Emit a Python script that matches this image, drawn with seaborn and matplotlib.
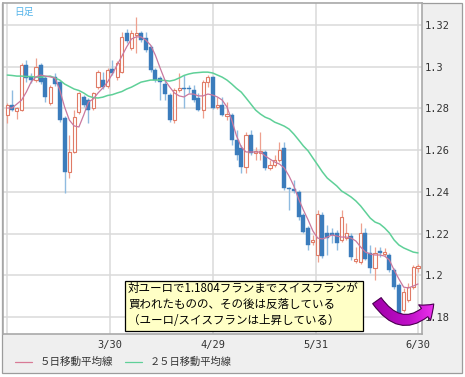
import numpy as np
import pandas as pd
import matplotlib
matplotlib.use("Agg")
import matplotlib.pyplot as plt
import seaborn as sns
from matplotlib.patches import Rectangle, FancyArrowPatch
from matplotlib.lines import Line2D
from matplotlib.colors import LinearSegmentedColormap

# ---------------- data (EUR/CHF daily candles) ----------------
opens = [1.2768, 1.2816, 1.2787, 1.2792, 1.3008, 1.2950, 1.2936, 1.3008, 1.2946, 1.2826,
         1.2950, 1.2926, 1.2754, 1.2495, 1.2591, 1.2782, 1.2854, 1.2840, 1.2802, 1.2902,
         1.2936, 1.2907, 1.2989, 1.2950, 1.2974, 1.3162, 1.3090, 1.3152, 1.3162, 1.3138,
         1.3094, 1.2984, 1.2946, 1.2917, 1.2864, 1.2744, 1.2888, 1.2898, 1.2898, 1.2888,
         1.2850, 1.2792, 1.2926, 1.2950, 1.2806, 1.2816, 1.2763, 1.2768, 1.2649, 1.2610,
         1.2519, 1.2673, 1.2586, 1.2586, 1.2591, 1.2515, 1.2529, 1.2553, 1.2610, 1.2418,
         1.2414, 1.2399, 1.2289, 1.2227, 1.2159, 1.2097, 1.2289, 1.2203, 1.2203, 1.2203,
         1.2169, 1.2179, 1.2188, 1.2068, 1.2063, 1.2203, 1.2107, 1.2035, 1.2116, 1.2102,
         1.2097, 1.2025, 1.1953, 1.1833, 1.1881, 1.1943, 1.2035]
highs = [1.2826, 1.2888, 1.2806, 1.3018, 1.3032, 1.2970, 1.3042, 1.3018, 1.2955, 1.2912,
         1.2970, 1.2936, 1.2763, 1.2673, 1.2792, 1.2878, 1.2864, 1.2850, 1.2878, 1.2984,
         1.2974, 1.2994, 1.3032, 1.3027, 1.3166, 1.3181, 1.3176, 1.3238, 1.3171, 1.3166,
         1.3104, 1.2994, 1.2955, 1.2936, 1.2874, 1.2898, 1.2970, 1.2960, 1.2912, 1.2912,
         1.2874, 1.2936, 1.2960, 1.2955, 1.2854, 1.2854, 1.2830, 1.2778, 1.2697, 1.2624,
         1.2687, 1.2697, 1.2615, 1.2687, 1.2601, 1.2553, 1.2577, 1.2639, 1.2639, 1.2423,
         1.2457, 1.2409, 1.2298, 1.2236, 1.2193, 1.2313, 1.2303, 1.2241, 1.2227, 1.2217,
         1.2313, 1.2251, 1.2203, 1.2135, 1.2251, 1.2227, 1.2145, 1.2135, 1.2135, 1.2131,
         1.2107, 1.2035, 1.1963, 1.1939, 1.1963, 1.2049, 1.2054]
lows = [1.2730, 1.2787, 1.2749, 1.2787, 1.2926, 1.2922, 1.2926, 1.2917, 1.2830, 1.2816,
        1.2907, 1.2734, 1.2395, 1.2467, 1.2586, 1.2773, 1.2806, 1.2730, 1.2792, 1.2893,
        1.2893, 1.2898, 1.2960, 1.2936, 1.2970, 1.3114, 1.3080, 1.3066, 1.3118, 1.3070,
        1.2974, 1.2926, 1.2840, 1.2840, 1.2734, 1.2730, 1.2878, 1.2802, 1.2874, 1.2830,
        1.2787, 1.2754, 1.2902, 1.2797, 1.2797, 1.2763, 1.2744, 1.2624, 1.2553, 1.2490,
        1.2490, 1.2577, 1.2553, 1.2553, 1.2505, 1.2505, 1.2519, 1.2543, 1.2409, 1.2313,
        1.2395, 1.2265, 1.2203, 1.2121, 1.2145, 1.2063, 1.2083, 1.2097, 1.2155, 1.2121,
        1.2159, 1.2169, 1.2073, 1.2058, 1.2054, 1.2073, 1.2011, 1.1977, 1.2087, 1.2092,
        1.2015, 1.1934, 1.1804, 1.1823, 1.1872, 1.1934, 1.2015]
closes = [1.2816, 1.2792, 1.2802, 1.3008, 1.2946, 1.2936, 1.2998, 1.2926, 1.2854, 1.2902,
          1.2917, 1.2744, 1.2495, 1.2591, 1.2758, 1.2874, 1.2816, 1.2792, 1.2874, 1.2974,
          1.2902, 1.2984, 1.2970, 1.3018, 1.3142, 1.3123, 1.3162, 1.3162, 1.3128, 1.3080,
          1.2984, 1.2936, 1.2926, 1.2869, 1.2744, 1.2888, 1.2898, 1.2893, 1.2893, 1.2840,
          1.2792, 1.2926, 1.2950, 1.2802, 1.2816, 1.2768, 1.2773, 1.2649, 1.2577, 1.2519,
          1.2673, 1.2586, 1.2596, 1.2596, 1.2515, 1.2529, 1.2553, 1.2601, 1.2418, 1.2414,
          1.2404, 1.2279, 1.2207, 1.2145, 1.2169, 1.2294, 1.2092, 1.2179, 1.2193, 1.2155,
          1.2279, 1.2203, 1.2087, 1.2078, 1.2203, 1.2078, 1.2035, 1.2107, 1.2107, 1.2111,
          1.2025, 1.1943, 1.1815, 1.1920, 1.1943, 1.2039, 1.2044]
ma5 = [1.2802, 1.2802, 1.2821, 1.2840, 1.2879, 1.2927, 1.2951, 1.2960, 1.2955, 1.2951,
       1.2946, 1.2888, 1.2807, 1.2744, 1.2716, 1.2711, 1.2768, 1.2831, 1.2845, 1.2874,
       1.2898, 1.2927, 1.2965, 1.3008, 1.3051, 1.3095, 1.3133, 1.3143, 1.3143, 1.3128,
       1.3104, 1.3056, 1.2994, 1.2936, 1.2903, 1.2874, 1.2860, 1.2855, 1.2869, 1.2869,
       1.2860, 1.2860, 1.2869, 1.2864, 1.2855, 1.2840, 1.2807, 1.2744, 1.2668, 1.2615,
       1.2591, 1.2591, 1.2591, 1.2591, 1.2572, 1.2557, 1.2543, 1.2533, 1.2514, 1.2476,
       1.2428, 1.2366, 1.2313, 1.2265, 1.2212, 1.2178, 1.2174, 1.2183, 1.2193, 1.2188,
       1.2183, 1.2183, 1.2178, 1.2164, 1.2135, 1.2111, 1.2102, 1.2097, 1.2097, 1.2092,
       1.2073, 1.2025, 1.1982, 1.1943, 1.1939, 1.1948, 1.1958]
ma25 = [1.2960, 1.2958, 1.2955, 1.2955, 1.2953, 1.2953, 1.2950, 1.2950, 1.2953, 1.2955,
        1.2946, 1.2936, 1.2917, 1.2905, 1.2893, 1.2886, 1.2874, 1.2859, 1.2852, 1.2850,
        1.2854, 1.2862, 1.2866, 1.2874, 1.2881, 1.2893, 1.2902, 1.2914, 1.2926, 1.2931,
        1.2936, 1.2936, 1.2936, 1.2934, 1.2931, 1.2936, 1.2946, 1.2958, 1.2965, 1.2970,
        1.2972, 1.2974, 1.2974, 1.2970, 1.2960, 1.2950, 1.2936, 1.2917, 1.2896, 1.2878,
        1.2850, 1.2821, 1.2792, 1.2773, 1.2758, 1.2749, 1.2734, 1.2725, 1.2715, 1.2701,
        1.2677, 1.2649, 1.2620, 1.2596, 1.2562, 1.2529, 1.2495, 1.2466, 1.2447, 1.2428,
        1.2404, 1.2390, 1.2375, 1.2356, 1.2332, 1.2303, 1.2274, 1.2255, 1.2246, 1.2227,
        1.2203, 1.2169, 1.2145, 1.2131, 1.2121, 1.2111, 1.2107]

tick_pos = [0, 21.5, 43, 64.6, 86]
tick_labels = ["", "3/30", "4/29", "5/31", "6/30"]
y_ticks = [1.18, 1.20, 1.22, 1.24, 1.26, 1.28, 1.30, 1.32]
y_labels = ["1.18", "1.2", "1.22", "1.24", "1.26", "1.28", "1.3", "1.32"]
legend_labels = ["５日移動平均線", "２５日移動平均線"]
note_lines = ["対ユーロで1.1804フランまでスイスフランが",
              "買われたものの、その後は反落している",
              "（ユーロ/スイスフランは上昇している）"]
period_label = "日足"

# ---------------- style ----------------
sns.set_style("white")
plt.rcParams['font.family'] = ['Noto Sans CJK JP', 'DejaVu Sans']

W, H = 465, 377
def fx(px):
    return px / W
def fy(py):
    return 1 - py / H

fig = plt.figure(figsize=(W / 100, H / 100), dpi=100)
fig.patch.set_facecolor('white')
fig.add_artist(Rectangle((fx(2), fy(373)), fx(462) - fx(2), fy(3) - fy(373),
                         transform=fig.transFigure, facecolor='#efefef',
                         edgecolor='#9c9c9c', lw=0.9, zorder=-5))

ax = fig.add_axes([fx(2.5), fy(334), fx(422) - fx(2.5), fy(3) - fy(334)])
ax.set_facecolor('white')

df = pd.DataFrame({"open": opens, "high": highs, "low": lows, "close": closes,
                   "ma5": ma5, "ma25": ma25})
df["idx"] = np.arange(len(df))
up = df["close"] >= df["open"]
dn = ~up

# wicks
ax.vlines(df.loc[up, "idx"], df.loc[up, "low"], df.loc[up, "high"],
          color='#eea08f', lw=0.9, zorder=2)
ax.vlines(df.loc[dn, "idx"], df.loc[dn, "low"], df.loc[dn, "high"],
          color='#8fbbe0', lw=1.0, zorder=2)
# bodies
ax.bar(df.loc[up, "idx"], (df.loc[up, "close"] - df.loc[up, "open"]).values,
       bottom=df.loc[up, "open"].values, width=0.66, facecolor='white',
       edgecolor='#e07b66', lw=0.8, zorder=3)
ax.bar(df.loc[dn, "idx"], (df.loc[dn, "open"] - df.loc[dn, "close"]).values,
       bottom=df.loc[dn, "close"].values, width=0.84, facecolor='#3b7cbc',
       edgecolor='#3b7cbc', lw=0.3, zorder=3)

# moving averages
sns.lineplot(data=df, x="idx", y="ma25", ax=ax, color='#5fd098', lw=1.1, zorder=4)
sns.lineplot(data=df, x="idx", y="ma5", ax=ax, color='#c9789e', lw=0.9, zorder=5)

XLIM = (-1.0, 86.84)
YLIM = (1.17181, 1.33056)

# curved magenta arrow with a horizontal gradient
arrow_kw = dict(posA=(77.4, 1.1878), posB=(89.3, 1.1862),
                connectionstyle="arc3,rad=0.62",
                arrowstyle="simple,head_length=9,head_width=14,tail_width=7.5",
                shrinkA=0, shrinkB=0, clip_on=False)
arrow = FancyArrowPatch(facecolor='#d030d0', edgecolor='none', zorder=6, **arrow_kw)
ax.add_patch(arrow)
grad = np.linspace(0, 1, 256).reshape(1, -1)
cmap = LinearSegmentedColormap.from_list('mag', ['#a000aa', '#c010c8', '#ff40ff'])
im = ax.imshow(grad, extent=(76.5, 91.5, 1.176, 1.192), aspect='auto', cmap=cmap,
               interpolation='bilinear', zorder=6.5)
im.set_clip_box(fig.bbox)
im.set_clip_path(arrow)
arrow_edge = FancyArrowPatch(facecolor='none', edgecolor='#4a0050', lw=0.8, zorder=7,
                             **arrow_kw)
ax.add_patch(arrow_edge)

ax.set_xlim(*XLIM)
ax.set_ylim(*YLIM)
ax.set_xlabel("")
ax.set_ylabel("")
ax.set_xticks(tick_pos)
ax.set_xticklabels(tick_labels, fontfamily='DejaVu Sans Mono', fontsize=7.5, color='#333333')
ax.yaxis.tick_right()
ax.set_yticks(y_ticks)
ax.set_yticklabels(y_labels, fontfamily='DejaVu Sans Mono', fontsize=7.5, color='#333333')
ax.tick_params(axis='both', length=0)
ax.tick_params(axis='x', pad=4.3)
ax.tick_params(axis='y', pad=2.2)
ax.grid(True, color='#dadada', lw=1.1)
ax.set_axisbelow(True)
for sp in ax.spines.values():
    sp.set_color('#a9a9a9')
    sp.set_linewidth(1.2)

# period label
fig.text(fx(14), fy(12), period_label, color='#55b4ea', fontsize=7, va='center', ha='left')

# annotation box
fig.add_artist(Rectangle((fx(125), fy(331)), fx(363) - fx(125), fy(281) - fy(331),
                         transform=fig.transFigure, facecolor='#ffffc6',
                         edgecolor='black', lw=0.9, zorder=3))
for line, yc in zip(note_lines, [288.5, 304, 320]):
    fig.text(fx(128), fy(yc), line, fontsize=8.3, color='black', va='center',
             ha='left', zorder=4)

# legend
fig.add_artist(Line2D([fx(15), fx(32)], [fy(362), fy(362)], color='#d87a96', lw=0.9,
                      transform=fig.transFigure))
fig.text(fx(40), fy(362), legend_labels[0], fontsize=7.6, color='#333333', va='center')
fig.add_artist(Line2D([fx(125), fx(142)], [fy(362), fy(362)], color='#5fd098', lw=0.9,
                      transform=fig.transFigure))
fig.text(fx(150), fy(362), legend_labels[1], fontsize=7.4, color='#333333', va='center')

fig.savefig("out.png", dpi=100)
